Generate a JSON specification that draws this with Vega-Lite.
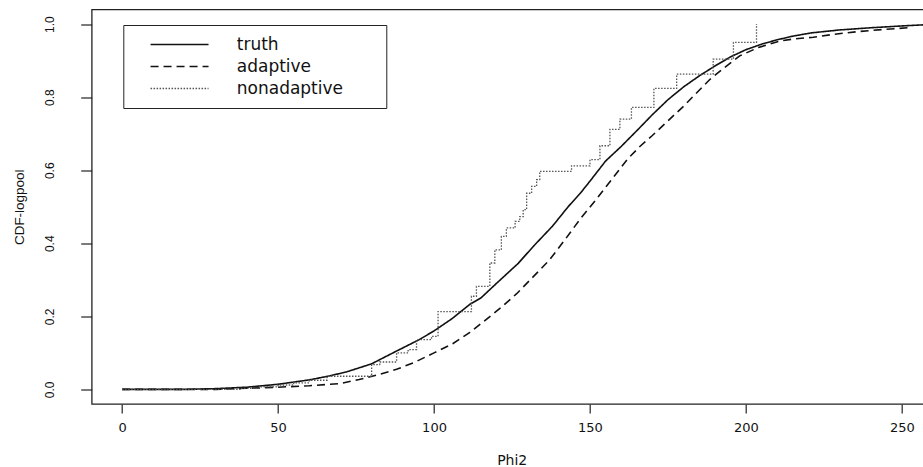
{
  "$schema": "https://vega.github.io/schema/vega-lite/v6.json",
  "autosize": "none",
  "padding": {"left": 91.7, "top": 9.5, "right": 0, "bottom": 63},
  "width": 832,
  "height": 394.5,
  "background": "white",
  "datasets": {
    "cdf": [
      {"series": "truth", "x": 0, "y": 0},
      {"series": "truth", "x": 20, "y": 0.0},
      {"series": "truth", "x": 30, "y": 0.002},
      {"series": "truth", "x": 40, "y": 0.006},
      {"series": "truth", "x": 50, "y": 0.014},
      {"series": "truth", "x": 60, "y": 0.026},
      {"series": "truth", "x": 66, "y": 0.036},
      {"series": "truth", "x": 72, "y": 0.048},
      {"series": "truth", "x": 80, "y": 0.07},
      {"series": "truth", "x": 88, "y": 0.105},
      {"series": "truth", "x": 95, "y": 0.135},
      {"series": "truth", "x": 100, "y": 0.16},
      {"series": "truth", "x": 106, "y": 0.195},
      {"series": "truth", "x": 111.5, "y": 0.233},
      {"series": "truth", "x": 115, "y": 0.25},
      {"series": "truth", "x": 120, "y": 0.29},
      {"series": "truth", "x": 127, "y": 0.345},
      {"series": "truth", "x": 132, "y": 0.393},
      {"series": "truth", "x": 138, "y": 0.447},
      {"series": "truth", "x": 143, "y": 0.5},
      {"series": "truth", "x": 147, "y": 0.538},
      {"series": "truth", "x": 150, "y": 0.57},
      {"series": "truth", "x": 155, "y": 0.625},
      {"series": "truth", "x": 160, "y": 0.665},
      {"series": "truth", "x": 165, "y": 0.708},
      {"series": "truth", "x": 170, "y": 0.752},
      {"series": "truth", "x": 175, "y": 0.793},
      {"series": "truth", "x": 180, "y": 0.828},
      {"series": "truth", "x": 185, "y": 0.858},
      {"series": "truth", "x": 190, "y": 0.885},
      {"series": "truth", "x": 195, "y": 0.91},
      {"series": "truth", "x": 200, "y": 0.93},
      {"series": "truth", "x": 205, "y": 0.945},
      {"series": "truth", "x": 210, "y": 0.957},
      {"series": "truth", "x": 215, "y": 0.967},
      {"series": "truth", "x": 221, "y": 0.976},
      {"series": "truth", "x": 230, "y": 0.984},
      {"series": "truth", "x": 240, "y": 0.99},
      {"series": "truth", "x": 250, "y": 0.995},
      {"series": "truth", "x": 257, "y": 0.998},
      {"series": "adaptive", "x": 0, "y": 0},
      {"series": "adaptive", "x": 30, "y": 0.0},
      {"series": "adaptive", "x": 40, "y": 0.003},
      {"series": "adaptive", "x": 50, "y": 0.006},
      {"series": "adaptive", "x": 60, "y": 0.01},
      {"series": "adaptive", "x": 70, "y": 0.016},
      {"series": "adaptive", "x": 76, "y": 0.027},
      {"series": "adaptive", "x": 82, "y": 0.04},
      {"series": "adaptive", "x": 88, "y": 0.055},
      {"series": "adaptive", "x": 94, "y": 0.075},
      {"series": "adaptive", "x": 100, "y": 0.1},
      {"series": "adaptive", "x": 106, "y": 0.125},
      {"series": "adaptive", "x": 111.5, "y": 0.156},
      {"series": "adaptive", "x": 118, "y": 0.2},
      {"series": "adaptive", "x": 122, "y": 0.228},
      {"series": "adaptive", "x": 126.5, "y": 0.262},
      {"series": "adaptive", "x": 132, "y": 0.31},
      {"series": "adaptive", "x": 137, "y": 0.354},
      {"series": "adaptive", "x": 142, "y": 0.41},
      {"series": "adaptive", "x": 147, "y": 0.468},
      {"series": "adaptive", "x": 152, "y": 0.52},
      {"series": "adaptive", "x": 157, "y": 0.575},
      {"series": "adaptive", "x": 162, "y": 0.63},
      {"series": "adaptive", "x": 166, "y": 0.665},
      {"series": "adaptive", "x": 170, "y": 0.695},
      {"series": "adaptive", "x": 175.6, "y": 0.74},
      {"series": "adaptive", "x": 180, "y": 0.775},
      {"series": "adaptive", "x": 184, "y": 0.81},
      {"series": "adaptive", "x": 188.5, "y": 0.849},
      {"series": "adaptive", "x": 193, "y": 0.88},
      {"series": "adaptive", "x": 198, "y": 0.913},
      {"series": "adaptive", "x": 204, "y": 0.936},
      {"series": "adaptive", "x": 211, "y": 0.954},
      {"series": "adaptive", "x": 216, "y": 0.96},
      {"series": "adaptive", "x": 221.6, "y": 0.964},
      {"series": "adaptive", "x": 228, "y": 0.972},
      {"series": "adaptive", "x": 236.5, "y": 0.98},
      {"series": "adaptive", "x": 245, "y": 0.986},
      {"series": "adaptive", "x": 252, "y": 0.99},
      {"series": "nonadaptive", "x": 0, "y": 0},
      {"series": "nonadaptive", "x": 38, "y": 0.003},
      {"series": "nonadaptive", "x": 44, "y": 0.007},
      {"series": "nonadaptive", "x": 50, "y": 0.012},
      {"series": "nonadaptive", "x": 55, "y": 0.018},
      {"series": "nonadaptive", "x": 60, "y": 0.025},
      {"series": "nonadaptive", "x": 65.7, "y": 0.036},
      {"series": "nonadaptive", "x": 80, "y": 0.068},
      {"series": "nonadaptive", "x": 82.6, "y": 0.075},
      {"series": "nonadaptive", "x": 88, "y": 0.1},
      {"series": "nonadaptive", "x": 91.7, "y": 0.109},
      {"series": "nonadaptive", "x": 94.4, "y": 0.136},
      {"series": "nonadaptive", "x": 99.2, "y": 0.145},
      {"series": "nonadaptive", "x": 101.3, "y": 0.213},
      {"series": "nonadaptive", "x": 112, "y": 0.255},
      {"series": "nonadaptive", "x": 113.6, "y": 0.282},
      {"series": "nonadaptive", "x": 117.9, "y": 0.346},
      {"series": "nonadaptive", "x": 119.5, "y": 0.382},
      {"series": "nonadaptive", "x": 121.6, "y": 0.419},
      {"series": "nonadaptive", "x": 123.2, "y": 0.442},
      {"series": "nonadaptive", "x": 126, "y": 0.46},
      {"series": "nonadaptive", "x": 127.5, "y": 0.473},
      {"series": "nonadaptive", "x": 128.6, "y": 0.492},
      {"series": "nonadaptive", "x": 129.7, "y": 0.537},
      {"series": "nonadaptive", "x": 131.3, "y": 0.556},
      {"series": "nonadaptive", "x": 132.9, "y": 0.574},
      {"series": "nonadaptive", "x": 133.9, "y": 0.597},
      {"series": "nonadaptive", "x": 144.1, "y": 0.612},
      {"series": "nonadaptive", "x": 150, "y": 0.629},
      {"series": "nonadaptive", "x": 153.2, "y": 0.667},
      {"series": "nonadaptive", "x": 156.4, "y": 0.712},
      {"series": "nonadaptive", "x": 159.6, "y": 0.74},
      {"series": "nonadaptive", "x": 163.3, "y": 0.772},
      {"series": "nonadaptive", "x": 170.5, "y": 0.824},
      {"series": "nonadaptive", "x": 177.8, "y": 0.863},
      {"series": "nonadaptive", "x": 189.5, "y": 0.904},
      {"series": "nonadaptive", "x": 196, "y": 0.95},
      {"series": "nonadaptive", "x": 203.4, "y": 1.0}
    ]
  },
  "data": {"name": "cdf"},
  "encoding": {
    "x": {
      "field": "x", "type": "quantitative",
      "scale": {"domain": [-9.75, 257], "nice": false, "zero": false},
      "axis": {"values": [0, 50, 100, 150, 200, 250], "title": "Phi2", "titleX": 420}
    },
    "y": {
      "field": "y", "type": "quantitative",
      "scale": {"domain": [-0.04, 1.04], "nice": false},
      "axis": {"values": [0, 0.2, 0.4, 0.6, 0.8, 1.0], "format": ".1f", "title": "CDF-logpool"}
    },
    "strokeDash": {
      "field": "series", "type": "nominal",
      "scale": {"domain": ["truth", "adaptive", "nonadaptive"], "range": [[1, 0], [8, 5], [1.5, 1.5]]},
      "legend": {"title": "\u00a0"}
    },
    "color": {
      "field": "series", "type": "nominal",
      "scale": {"domain": ["truth", "adaptive", "nonadaptive"], "range": ["#111111", "#111111", "#555555"]},
      "legend": {"title": "\u00a0"}
    }
  },
  "layer": [
    {
      "transform": [{"filter": "datum.series != 'nonadaptive'"}],
      "mark": {"type": "line", "strokeWidth": 1.6, "clip": true}
    },
    {
      "transform": [{"filter": "datum.series == 'nonadaptive'"}],
      "mark": {"type": "line", "strokeWidth": 1.3, "interpolate": "step-after", "clip": true}
    }
  ],
  "config": {
    "view": {"stroke": "#222222", "strokeWidth": 1.3},
    "font": "Liberation Sans",
    "axis": {
      "grid": false, "domain": false, "tickColor": "#222222", "tickWidth": 1.2,
      "labelColor": "#111111", "titleColor": "#111111", "titleFontWeight": "normal"
    },
    "axisX": {
      "tickSize": 9, "labelFont": "DejaVu Sans", "labelFontSize": 13, "labelPadding": 9,
      "labelBaseline": "top", "titleFont": "DejaVu Sans", "titleFontSize": 14, "titlePadding": 19
    },
    "axisY": {
      "tickSize": 11, "labelFont": "Liberation Sans", "labelFontSize": 12, "labelAngle": 270,
      "labelAlign": "center", "labelBaseline": "bottom", "labelPadding": 24,
      "titleFont": "Liberation Sans", "titleFontSize": 13.5, "titlePadding": 17
    },
    "legend": {
      "orient": "none", "legendX": 31.6, "legendY": 15.5,
      "symbolType": "M-4,0H4", "symbolSize": 210, "symbolStrokeWidth": 1.5,
      "labelFont": "DejaVu Sans", "labelFontSize": 17, "labelColor": "#111111",
      "labelOffset": 48.75, "padding": 11, "rowPadding": 4, "symbolOffset": 36.75,
      "strokeColor": "#222222", "fillColor": "white", "labelLimit": 400,
      "titleOrient": "right", "titlePadding": 32, "titleColor": "white", "titleFontSize": 10
    }
  }
}
